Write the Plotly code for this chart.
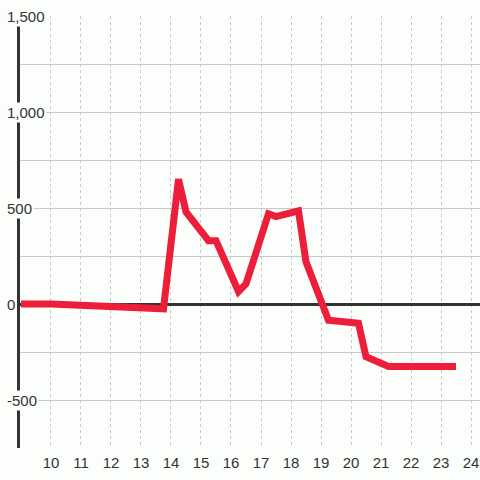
import plotly.graph_objects as go

# data (hours of day vs value)
hours = [9, 10, 13.75, 14.25, 14.5, 15.25, 15.5, 16.25, 16.5, 17.25, 17.5, 18.25, 18.5,
         19.25, 20.25, 20.5, 21.25, 23.5]
values = [0, 0, -25, 650, 480, 330, 330, 65, 105, 470, 455, 485, 220,
          -85, -100, -275, -325, -325]

x_ticks = list(range(10, 25))
y_label_vals = [-500, 0, 500, 1000, 1500]
y_label_text = ["-500", "0", "500", "1,000", "1,500"]

BG = "#fcfefc"
FONT = "Liberation Sans, Arial, sans-serif"
W, H = 480, 480
ML, MR, MT, MB = 20, 0, 16, 32

fig = go.Figure()
fig.add_trace(go.Scatter(x=hours, y=values, mode="lines",
                         line=dict(color="#ec1e3a", width=7),
                         hoverinfo="skip", showlegend=False))

fig.update_layout(
    width=W, height=H,
    margin=dict(l=ML, r=MR, t=MT, b=MB, pad=0, autoexpand=False),
    paper_bgcolor=BG, plot_bgcolor=BG,
    font=dict(family=FONT, size=14, color="#333"),
    xaxis=dict(range=[8.967, 24.3], tickvals=x_ticks, showgrid=True,
               gridcolor="#c8c8c8", gridwidth=1, griddash="dot",
               zeroline=False, showline=False, ticks="", automargin=False,
               ticklabelstandoff=4,
               tickfont=dict(size=15, color="#333")),
    yaxis=dict(range=[-750, 1500], dtick=250, tick0=0, showgrid=True,
               gridcolor="#c8c8c8", gridwidth=1, showticklabels=False,
               zeroline=True, zerolinecolor="#333", zerolinewidth=3, automargin=False,
               showline=True, linecolor="#333", linewidth=3, ticks=""),
)

plot_w = W - ML - MR
for v, t in zip(y_label_vals, y_label_text):
    fig.add_annotation(x=(5 - ML) / plot_w, xref="paper", y=v, yref="y",
                       xanchor="left", yanchor="middle", text=t, showarrow=False,
                       bgcolor=BG, borderpad=1,
                       font=dict(size=15, color="#333", family=FONT))

fig.write_html(
    "out.html",
    config={"displayModeBar": False},
    post_script="document.body.style.margin='0';document.body.style.background='" + BG + "';",
)
